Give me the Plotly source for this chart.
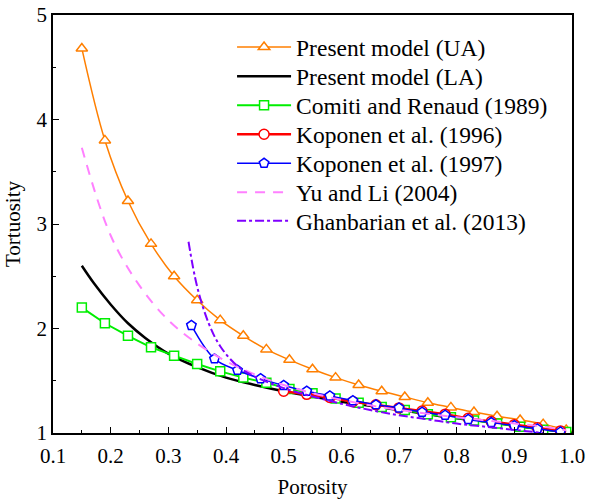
import plotly.graph_objects as go

# ---------------- data ----------------
x_ua = [0.15, 0.19, 0.23, 0.27, 0.31, 0.35, 0.39, 0.43, 0.47, 0.51, 0.55,
        0.59, 0.63, 0.67, 0.71, 0.75, 0.79, 0.83, 0.87, 0.91, 0.95, 0.99]
y_ua = [4.68, 3.80, 3.22, 2.81, 2.50, 2.27, 2.08, 1.93, 1.80, 1.70, 1.61,
        1.53, 1.46, 1.40, 1.345, 1.29, 1.245, 1.20, 1.16, 1.125, 1.085, 1.03]

x_la = [0.15, 0.17, 0.20, 0.23, 0.26, 0.30, 0.35, 0.40, 0.45, 0.50, 0.55,
        0.60, 0.65, 0.70, 0.75, 0.80, 0.85, 0.90, 0.95, 1.00]
y_la = [2.60, 2.44, 2.23, 2.05, 1.91, 1.76, 1.63, 1.53, 1.46, 1.40, 1.35,
        1.30, 1.26, 1.22, 1.18, 1.14, 1.11, 1.07, 1.035, 1.00]

x_cr = x_ua
y_cr = [2.20, 2.05, 1.93, 1.82, 1.74, 1.66, 1.59, 1.53, 1.48, 1.42, 1.38,
        1.33, 1.29, 1.25, 1.22, 1.18, 1.15, 1.12, 1.09, 1.06, 1.03, 1.01]

x_k96 = [0.50, 0.54, 0.58, 0.62, 0.66, 0.70, 0.74, 0.78, 0.82, 0.86, 0.90, 0.94, 0.98]
y_k96 = [1.40, 1.37, 1.34, 1.30, 1.27, 1.24, 1.21, 1.18, 1.14, 1.11, 1.08, 1.05, 1.02]

x_k97 = [0.34, 0.38, 0.42, 0.46, 0.50, 0.54, 0.58, 0.62, 0.66, 0.70, 0.74,
         0.78, 0.82, 0.86, 0.90, 0.94, 0.98]
y_k97 = [2.03, 1.71, 1.60, 1.52, 1.455, 1.40, 1.355, 1.31, 1.27, 1.24, 1.20,
         1.17, 1.13, 1.10, 1.07, 1.04, 1.01]

x_yl = [0.15, 0.20, 0.25, 0.30, 0.35, 0.40, 0.45, 0.50, 0.55, 0.60, 0.65,
        0.70, 0.75, 0.80, 0.85, 0.90, 0.95, 0.99]
y_yl = [3.73, 2.89, 2.41, 2.08, 1.856, 1.688, 1.56, 1.46, 1.381, 1.318, 1.265,
        1.221, 1.184, 1.151, 1.121, 1.092, 1.061, 1.026]

x_gh = [0.335, 0.35, 0.37, 0.39, 0.42, 0.45, 0.50, 0.55, 0.60, 0.65, 0.70,
        0.75, 0.80, 0.85, 0.90, 0.95]
y_gh = [2.83, 2.40, 2.05, 1.83, 1.64, 1.54, 1.43, 1.35, 1.28, 1.22, 1.17,
        1.13, 1.09, 1.06, 1.03, 1.00]

x_ticks = [0.1, 0.2, 0.3, 0.4, 0.5, 0.6, 0.7, 0.8, 0.9, 1.0]
y_ticks = [1, 2, 3, 4, 5]

FONT = "Liberation Serif, Times New Roman, DejaVu Serif, serif"

fig = go.Figure()
legend_ids = ["legend", "legend2", "legend3", "legend4", "legend5", "legend6", "legend7"]
count = [0]

def add(x, y, name, color, width=1.5, dash="solid", symbol=None, msize=10, shape="spline"):
    lid = legend_ids[count[0]]
    count[0] += 1
    kw = dict(x=x, y=y, name=name, legend=lid,
              line=dict(color=color, width=width, dash=dash, shape=shape))
    if symbol:
        kw["mode"] = "lines+markers"
        kw["marker"] = dict(symbol=symbol, size=msize, color="white",
                            line=dict(color=color, width=1.5))
    else:
        kw["mode"] = "lines"
    fig.add_trace(go.Scatter(**kw))

add(x_ua, y_ua, "Present model (UA)", "#FF7F00", symbol="triangle-up", msize=10)
add(x_la, y_la, "Present model (LA)", "black", width=2.5)
add(x_cr, y_cr, "Comiti and Renaud (1989)", "#00EE00", width=2, symbol="square", msize=9, shape="linear")
add(x_k96, y_k96, "Koponen et al. (1996)", "#FF0000", width=2.5, symbol="circle", msize=10, shape="linear")
add(x_k97, y_k97, "Koponen et al. (1997)", "#0000FF", symbol="pentagon", msize=10)
add(x_yl, y_yl, "Yu and Li (2004)", "#FF80FF", width=2, dash="10px,8px")
add(x_gh, y_gh, "Ghanbarian et al. (2013)", "#7F00FF", width=2, dash="dashdot")

axis_common = dict(
    showline=True, linecolor="black", linewidth=1.5, mirror=True,
    ticks="inside", ticklen=6, tickwidth=1.2, tickcolor="black",
    showgrid=False, zeroline=False, automargin=False,
    tickfont=dict(family=FONT, size=21, color="black"),
    title_font=dict(family=FONT, size=21, color="black"),
)

fig.update_xaxes(range=[0.1, 1.0], tickvals=x_ticks, tickformat=".1f",
                 ticklabelstandoff=3,
                 minor=dict(ticks="inside", ticklen=3, dtick=0.05, tickcolor="black"),
                 title_text="Porosity", title_standoff=12, **axis_common)
fig.update_yaxes(range=[1, 5], tickvals=y_ticks,
                 minor=dict(ticks="inside", ticklen=3, dtick=0.5, tickcolor="black"),
                 title_text="Tortuosity", title_standoff=10, **axis_common)

# legend rows (pixel centres measured on the reference)
row_px = [47.3, 76.5, 105.5, 134.5, 163.5, 192.5, 221.0]
plot_top, plot_h = 15, 418
legends = {}
for lid, py in zip(legend_ids, row_px):
    legends[lid] = dict(
        x=0.345, y=1 - (py - plot_top) / plot_h, xanchor="left", yanchor="middle",
        font=dict(family=FONT, size=23.5, color="black"),
        bgcolor="rgba(0,0,0,0)", itemwidth=54, borderwidth=0,
    )

fig.update_layout(
    width=591, height=502,
    margin=dict(l=53, r=19, t=15, b=69),
    paper_bgcolor="white", plot_bgcolor="white",
    font=dict(family=FONT, color="black"),
    showlegend=True,
    **legends,
)

fig.write_html("out.html", config={"displayModeBar": False},
               post_script="document.body.style.margin='0';document.body.style.padding='0';")
